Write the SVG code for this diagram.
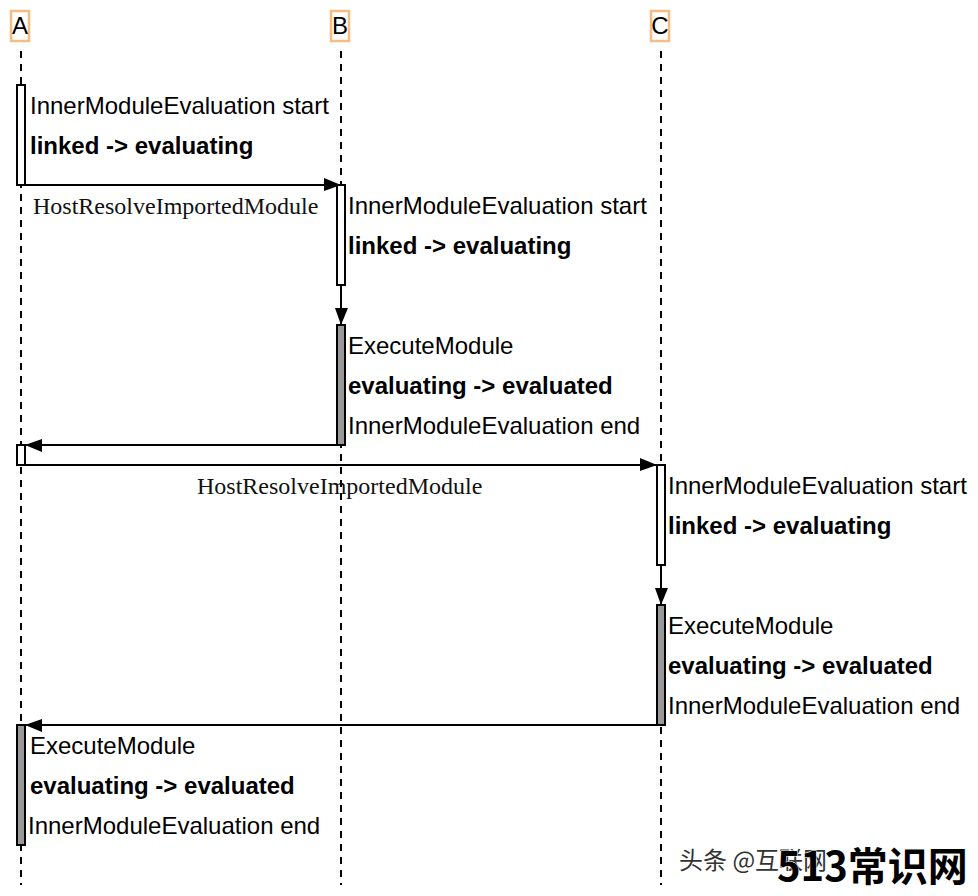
<svg xmlns="http://www.w3.org/2000/svg" width="978" height="896" viewBox="0 0 978 896">
<style>
text{font-family:"Liberation Sans",Arial,sans-serif;font-size:24px;fill:#000}
.b{font-weight:bold;font-size:24px}
.s{font-family:"Liberation Serif","Times New Roman",serif;font-size:24px;fill:#111}
.h{fill:#fff;stroke:#f5bd82;stroke-width:2.5}
.l{stroke:#000;stroke-width:2;stroke-dasharray:7 6;fill:none}
.c{stroke:#000;stroke-width:2;fill:none}
.w{fill:#fff;stroke:#000;stroke-width:2}
.g{fill:#999;stroke:#000;stroke-width:2}
.wm{font-family:"Noto Sans CJK SC",sans-serif}
</style>
<defs><marker id="a" markerUnits="userSpaceOnUse" markerWidth="18" markerHeight="14" refX="17" refY="7" orient="auto"><path d="M0 0L17 7L0 13Z" fill="#000"/></marker></defs>
<g id="lifelines">
<path class="l" d="M21 51V885"/><path class="l" d="M341 51V885"/><path class="l" d="M661 51V885"/>
</g>
<g id="A"><rect class="h" x="11" y="11" width="18" height="30"/><text x="20" y="34" text-anchor="middle">A</text></g>
<g id="B"><rect class="h" x="331" y="11" width="18" height="30"/><text x="340" y="34" text-anchor="middle">B</text></g>
<g id="C"><rect class="h" x="651" y="11" width="18" height="30"/><text x="660" y="34" text-anchor="middle">C</text></g>
<g id="a1"><rect class="w" x="17" y="85" width="8" height="100"/></g>
<g id="a2"><rect class="w" x="17" y="445" width="8" height="20"/></g>
<g id="a3"><rect class="g" x="17" y="725" width="8" height="120"/></g>
<g id="b1"><rect class="w" x="337" y="185" width="8" height="100"/></g>
<g id="b2"><rect class="g" x="337" y="325" width="8" height="120"/></g>
<g id="c1"><rect class="w" x="657" y="465" width="8" height="100"/></g>
<g id="c2"><rect class="g" x="657" y="605" width="8" height="120"/></g>
<g id="connectors">
<path class="c" d="M25 185H341" marker-end="url(#a)"/>
<path class="c" d="M341 285V325" marker-end="url(#a)"/>
<path class="c" d="M337 445H25" marker-end="url(#a)"/>
<path class="c" d="M25 465H657" marker-end="url(#a)"/>
<path class="c" d="M661 565V605" marker-end="url(#a)"/>
<path class="c" d="M657 725H25" marker-end="url(#a)"/>
</g>
<g id="labels">
<text x="30" y="114">InnerModuleEvaluation start</text>
<text class="b" x="30" y="154">linked -&gt; evaluating</text>
<text class="s" x="33" y="214">HostResolveImportedModule</text>
<text x="348" y="214">InnerModuleEvaluation start</text>
<text class="b" x="348" y="254">linked -&gt; evaluating</text>
<text x="348" y="354">ExecuteModule</text>
<text class="b" x="348" y="394">evaluating -&gt; evaluated</text>
<text x="348" y="434">InnerModuleEvaluation end</text>
<text class="s" x="197" y="494">HostResolveImportedModule</text>
<text x="668" y="494">InnerModuleEvaluation start</text>
<text class="b" x="668" y="534">linked -&gt; evaluating</text>
<text x="668" y="634">ExecuteModule</text>
<text class="b" x="668" y="674">evaluating -&gt; evaluated</text>
<text x="668" y="714">InnerModuleEvaluation end</text>
<text x="30" y="754">ExecuteModule</text>
<text class="b" x="30" y="794">evaluating -&gt; evaluated</text>
<text x="28" y="834">InnerModuleEvaluation end</text>
</g>
<g id="watermark">
<text class="wm" x="679" y="869" style="font-size:24px;fill:#333">头条 @互联网</text>
<text class="wm" x="777" y="881" style="font-size:40px;font-weight:bold;fill:#000;stroke:#fff;stroke-width:1;paint-order:stroke">513常识网</text>
</g>
</svg>
